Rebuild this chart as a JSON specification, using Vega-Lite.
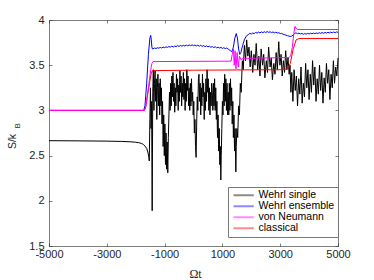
{
  "$schema": "https://vega.github.io/schema/vega-lite/v6.json",
  "width": 289,
  "height": 226,
  "autosize": "none",
  "padding": {"left": 49, "top": 20, "right": 36, "bottom": 34},
  "background": "white",
  "config": {
    "view": {"stroke": null},
    "font": "Liberation Sans",
    "axis": {
      "domainColor": "#262626", "domainWidth": 0.6,
      "tickColor": "#262626", "tickWidth": 0.6, "tickSize": -3,
      "labelColor": "#262626", "labelFontSize": 11, "labelFont": "Liberation Sans",
      "grid": false, "titleFontWeight": "normal", "titleColor": "#262626",
      "labelFlush": false, "labelOverlap": false
    },
    "legend": {
      "orient": "none", "legendX": 179, "legendY": 167,
      "title": null,
      "symbolType": "M-1.1,0H7",
      "symbolSize": 25,
      "symbolStrokeWidth": 2,
      "symbolOpacity": 0.45,
      "labelFontSize": 10.5, "labelFont": "Liberation Sans", "labelColor": "#000000",
      "labelOffset": 17, "labelLimit": 0,
      "padding": 3, "rowPadding": -1,
      "strokeColor": "#777777", "fillColor": "white"
    }
  },
  "datasets": {
    "single": [
      {"t": -5000, "S": 2.665}, {"t": -4000, "S": 2.663}, {"t": -3000, "S": 2.66}, {"t": -2500, "S": 2.657},
      {"t": -2200, "S": 2.653}, {"t": -2000, "S": 2.648}, {"t": -1900, "S": 2.643}, {"t": -1800, "S": 2.635},
      {"t": -1740, "S": 2.625}, {"t": -1680, "S": 2.605}, {"t": -1620, "S": 2.58}, {"t": -1580, "S": 2.54},
      {"t": -1550, "S": 2.49}, {"t": -1530, "S": 2.44}, {"t": -1510, "S": 2.9}, {"t": -1490, "S": 3.25},
      {"t": -1470, "S": 2.8}, {"t": -1450, "S": 3.1}, {"t": -1430, "S": 1.89}, {"t": -1410, "S": 3.2},
      {"t": -1390, "S": 3.45}, {"t": -1370, "S": 3.0}, {"t": -1350, "S": 3.3}, {"t": -1330, "S": 3.44},
      {"t": -1310, "S": 3.1}, {"t": -1290, "S": 3.35}, {"t": -1270, "S": 2.9}, {"t": -1250, "S": 3.25},
      {"t": -1230, "S": 3.4}, {"t": -1210, "S": 3.05}, {"t": -1190, "S": 3.3}, {"t": -1170, "S": 2.95},
      {"t": -1150, "S": 3.35}, {"t": -1130, "S": 3.05}, {"t": -1110, "S": 3.25}, {"t": -1090, "S": 2.85},
      {"t": -1070, "S": 3.1}, {"t": -1050, "S": 2.6}, {"t": -1030, "S": 2.95}, {"t": -1010, "S": 2.5},
      {"t": -990, "S": 2.85}, {"t": -970, "S": 2.4}, {"t": -950, "S": 2.75}, {"t": -930, "S": 2.35},
      {"t": -910, "S": 2.65}, {"t": -890, "S": 2.31}, {"t": -870, "S": 2.7}, {"t": -850, "S": 2.95},
      {"t": -830, "S": 3.2}, {"t": -810, "S": 3.0}, {"t": -790, "S": 3.3}, {"t": -770, "S": 3.05},
      {"t": -750, "S": 3.38}, {"t": -730, "S": 3.15}, {"t": -710, "S": 3.42}, {"t": -690, "S": 3.1},
      {"t": -670, "S": 3.3}, {"t": -650, "S": 2.98}, {"t": -630, "S": 3.25}, {"t": -610, "S": 3.05},
      {"t": -590, "S": 3.4}, {"t": -570, "S": 3.2}, {"t": -550, "S": 3.35}, {"t": -530, "S": 3.0},
      {"t": -510, "S": 3.28}, {"t": -490, "S": 3.1}, {"t": -470, "S": 3.44}, {"t": -450, "S": 3.2},
      {"t": -430, "S": 3.38}, {"t": -410, "S": 3.05}, {"t": -390, "S": 3.3}, {"t": -370, "S": 3.15},
      {"t": -350, "S": 3.42}, {"t": -330, "S": 3.12}, {"t": -310, "S": 3.35}, {"t": -290, "S": 3.0},
      {"t": -270, "S": 3.3}, {"t": -250, "S": 3.1}, {"t": -230, "S": 3.45}, {"t": -210, "S": 3.22},
      {"t": -190, "S": 3.38}, {"t": -170, "S": 3.05}, {"t": -150, "S": 3.25}, {"t": -130, "S": 3.0},
      {"t": -110, "S": 3.3}, {"t": -90, "S": 3.05}, {"t": -70, "S": 3.35}, {"t": -50, "S": 3.1},
      {"t": -30, "S": 3.2}, {"t": -10, "S": 2.95}, {"t": 10, "S": 3.1}, {"t": 30, "S": 2.75},
      {"t": 50, "S": 2.9}, {"t": 70, "S": 2.6}, {"t": 90, "S": 2.48}, {"t": 110, "S": 2.85},
      {"t": 130, "S": 3.15}, {"t": 150, "S": 3.0}, {"t": 170, "S": 3.35}, {"t": 190, "S": 3.4},
      {"t": 210, "S": 3.1}, {"t": 230, "S": 3.3}, {"t": 250, "S": 2.95}, {"t": 270, "S": 3.25},
      {"t": 290, "S": 3.05}, {"t": 310, "S": 3.4}, {"t": 330, "S": 3.15}, {"t": 350, "S": 3.3},
      {"t": 370, "S": 2.9}, {"t": 390, "S": 3.2}, {"t": 410, "S": 3.0}, {"t": 430, "S": 3.35},
      {"t": 450, "S": 3.1}, {"t": 470, "S": 3.45}, {"t": 490, "S": 3.2}, {"t": 510, "S": 3.35},
      {"t": 530, "S": 3.0}, {"t": 550, "S": 3.25}, {"t": 570, "S": 2.95}, {"t": 590, "S": 3.2},
      {"t": 610, "S": 3.05}, {"t": 630, "S": 3.3}, {"t": 650, "S": 3.2}, {"t": 670, "S": 3.0},
      {"t": 690, "S": 3.3}, {"t": 710, "S": 3.05}, {"t": 730, "S": 3.35}, {"t": 750, "S": 3.0},
      {"t": 770, "S": 3.25}, {"t": 790, "S": 2.9}, {"t": 810, "S": 3.1}, {"t": 830, "S": 2.7},
      {"t": 850, "S": 2.95}, {"t": 870, "S": 2.55}, {"t": 890, "S": 2.8}, {"t": 910, "S": 2.4},
      {"t": 930, "S": 2.6}, {"t": 945, "S": 2.23}, {"t": 960, "S": 2.5}, {"t": 980, "S": 2.8},
      {"t": 1000, "S": 3.1}, {"t": 1020, "S": 2.95}, {"t": 1040, "S": 3.3}, {"t": 1060, "S": 3.05},
      {"t": 1080, "S": 3.4}, {"t": 1100, "S": 3.1}, {"t": 1120, "S": 3.35}, {"t": 1140, "S": 3.0},
      {"t": 1160, "S": 3.3}, {"t": 1180, "S": 2.95}, {"t": 1200, "S": 3.2}, {"t": 1220, "S": 2.95},
      {"t": 1240, "S": 3.3}, {"t": 1260, "S": 3.0}, {"t": 1280, "S": 3.35}, {"t": 1300, "S": 3.05},
      {"t": 1320, "S": 3.25}, {"t": 1340, "S": 2.85}, {"t": 1360, "S": 3.1}, {"t": 1380, "S": 2.7},
      {"t": 1400, "S": 2.95}, {"t": 1420, "S": 2.55}, {"t": 1440, "S": 2.8}, {"t": 1465, "S": 2.32},
      {"t": 1480, "S": 2.6}, {"t": 1500, "S": 2.8}, {"t": 1530, "S": 2.7}, {"t": 1560, "S": 3.05},
      {"t": 1590, "S": 2.95}, {"t": 1620, "S": 3.3}, {"t": 1650, "S": 3.2}, {"t": 1690, "S": 3.55},
      {"t": 1720, "S": 3.45}, {"t": 1760, "S": 3.72}, {"t": 1800, "S": 3.55}, {"t": 1840, "S": 3.78},
      {"t": 1880, "S": 3.6}, {"t": 1920, "S": 3.7}, {"t": 1960, "S": 3.48}, {"t": 2000, "S": 3.66},
      {"t": 2050, "S": 3.42}, {"t": 2090, "S": 3.62}, {"t": 2130, "S": 3.5}, {"t": 2170, "S": 3.74},
      {"t": 2220, "S": 3.45}, {"t": 2260, "S": 3.6}, {"t": 2300, "S": 3.38}, {"t": 2340, "S": 3.68},
      {"t": 2390, "S": 3.5}, {"t": 2430, "S": 3.62}, {"t": 2470, "S": 3.36}, {"t": 2520, "S": 3.55},
      {"t": 2560, "S": 3.42}, {"t": 2600, "S": 3.7}, {"t": 2650, "S": 3.48}, {"t": 2690, "S": 3.58},
      {"t": 2730, "S": 3.34}, {"t": 2780, "S": 3.52}, {"t": 2820, "S": 3.4}, {"t": 2860, "S": 3.64},
      {"t": 2900, "S": 3.45}, {"t": 2950, "S": 3.76}, {"t": 2990, "S": 3.5}, {"t": 3030, "S": 3.62},
      {"t": 3070, "S": 3.38}, {"t": 3110, "S": 3.55}, {"t": 3150, "S": 3.42}, {"t": 3190, "S": 3.66},
      {"t": 3230, "S": 3.45}, {"t": 3270, "S": 3.58}, {"t": 3310, "S": 3.4}, {"t": 3340, "S": 3.5},
      {"t": 3370, "S": 3.2}, {"t": 3400, "S": 3.42}, {"t": 3440, "S": 3.1}, {"t": 3480, "S": 3.45},
      {"t": 3520, "S": 3.22}, {"t": 3560, "S": 3.38}, {"t": 3600, "S": 3.05}, {"t": 3640, "S": 3.35},
      {"t": 3680, "S": 3.18}, {"t": 3720, "S": 3.48}, {"t": 3760, "S": 3.08}, {"t": 3800, "S": 3.3},
      {"t": 3840, "S": 3.15}, {"t": 3880, "S": 3.52}, {"t": 3920, "S": 3.25}, {"t": 3960, "S": 3.45},
      {"t": 4000, "S": 3.12}, {"t": 4040, "S": 3.4}, {"t": 4080, "S": 3.2}, {"t": 4120, "S": 3.55},
      {"t": 4160, "S": 3.28}, {"t": 4200, "S": 3.48}, {"t": 4240, "S": 3.1}, {"t": 4280, "S": 3.35},
      {"t": 4320, "S": 3.18}, {"t": 4360, "S": 3.5}, {"t": 4400, "S": 3.22}, {"t": 4440, "S": 3.42},
      {"t": 4480, "S": 3.08}, {"t": 4520, "S": 3.36}, {"t": 4560, "S": 3.2}, {"t": 4600, "S": 3.52},
      {"t": 4640, "S": 3.3}, {"t": 4680, "S": 3.45}, {"t": 4720, "S": 3.12}, {"t": 4760, "S": 3.4},
      {"t": 4800, "S": 3.25}, {"t": 4840, "S": 3.55}, {"t": 4880, "S": 3.3}, {"t": 4920, "S": 3.48},
      {"t": 4960, "S": 3.38}, {"t": 5000, "S": 3.58}
    ],
    "ensemble": [
      {"t": -5000, "S": 3.0}, {"t": -1720, "S": 3.0}, {"t": -1680, "S": 3.05}, {"t": -1620, "S": 3.3},
      {"t": -1560, "S": 3.62}, {"t": -1510, "S": 3.8}, {"t": -1480, "S": 3.83}, {"t": -1460, "S": 3.78},
      {"t": -1440, "S": 3.7}, {"t": -1420, "S": 3.68}, {"t": -1350, "S": 3.69}, {"t": -1300, "S": 3.684},
      {"t": -1250, "S": 3.693}, {"t": -1200, "S": 3.688}, {"t": -1150, "S": 3.697}, {"t": -1100, "S": 3.69},
      {"t": -1050, "S": 3.7}, {"t": -1000, "S": 3.694}, {"t": -950, "S": 3.703}, {"t": -900, "S": 3.697},
      {"t": -850, "S": 3.706}, {"t": -800, "S": 3.7}, {"t": -750, "S": 3.71}, {"t": -700, "S": 3.702},
      {"t": -650, "S": 3.712}, {"t": -600, "S": 3.706}, {"t": -550, "S": 3.716}, {"t": -500, "S": 3.708},
      {"t": -450, "S": 3.718}, {"t": -400, "S": 3.71}, {"t": -350, "S": 3.72}, {"t": -300, "S": 3.712},
      {"t": -250, "S": 3.722}, {"t": -200, "S": 3.714}, {"t": -150, "S": 3.724}, {"t": -100, "S": 3.716},
      {"t": -50, "S": 3.725}, {"t": 0, "S": 3.716}, {"t": 50, "S": 3.724}, {"t": 100, "S": 3.713},
      {"t": 150, "S": 3.722}, {"t": 200, "S": 3.71}, {"t": 250, "S": 3.72}, {"t": 300, "S": 3.708},
      {"t": 350, "S": 3.717}, {"t": 400, "S": 3.705}, {"t": 450, "S": 3.714}, {"t": 500, "S": 3.703},
      {"t": 550, "S": 3.71}, {"t": 600, "S": 3.698}, {"t": 650, "S": 3.707}, {"t": 700, "S": 3.695},
      {"t": 750, "S": 3.704}, {"t": 800, "S": 3.692}, {"t": 850, "S": 3.7}, {"t": 900, "S": 3.69},
      {"t": 950, "S": 3.697}, {"t": 1000, "S": 3.686}, {"t": 1050, "S": 3.693}, {"t": 1100, "S": 3.684},
      {"t": 1150, "S": 3.69}, {"t": 1200, "S": 3.678}, {"t": 1280, "S": 3.66}, {"t": 1330, "S": 3.65},
      {"t": 1380, "S": 3.7}, {"t": 1430, "S": 3.8}, {"t": 1480, "S": 3.85}, {"t": 1520, "S": 3.8},
      {"t": 1560, "S": 3.68}, {"t": 1600, "S": 3.62}, {"t": 1640, "S": 3.64}, {"t": 1700, "S": 3.72},
      {"t": 1760, "S": 3.78}, {"t": 1820, "S": 3.82}, {"t": 1900, "S": 3.84}, {"t": 1950, "S": 3.852},
      {"t": 2000, "S": 3.845}, {"t": 2050, "S": 3.856}, {"t": 2100, "S": 3.85}, {"t": 2150, "S": 3.862},
      {"t": 2200, "S": 3.855}, {"t": 2250, "S": 3.866}, {"t": 2300, "S": 3.858}, {"t": 2350, "S": 3.868},
      {"t": 2400, "S": 3.86}, {"t": 2450, "S": 3.87}, {"t": 2500, "S": 3.862}, {"t": 2550, "S": 3.872},
      {"t": 2600, "S": 3.863}, {"t": 2650, "S": 3.87}, {"t": 2700, "S": 3.86}, {"t": 2750, "S": 3.868},
      {"t": 2800, "S": 3.858}, {"t": 2850, "S": 3.865}, {"t": 2900, "S": 3.855}, {"t": 2950, "S": 3.86},
      {"t": 3000, "S": 3.85}, {"t": 3050, "S": 3.852}, {"t": 3100, "S": 3.842}, {"t": 3150, "S": 3.838},
      {"t": 3200, "S": 3.832}, {"t": 3250, "S": 3.826}, {"t": 3300, "S": 3.822}, {"t": 3350, "S": 3.818},
      {"t": 3400, "S": 3.822}, {"t": 3450, "S": 3.835}, {"t": 3500, "S": 3.852}, {"t": 3550, "S": 3.858},
      {"t": 3600, "S": 3.848}, {"t": 3650, "S": 3.855}, {"t": 3700, "S": 3.845}, {"t": 3750, "S": 3.852},
      {"t": 3800, "S": 3.842}, {"t": 3850, "S": 3.85}, {"t": 3900, "S": 3.843}, {"t": 3950, "S": 3.852},
      {"t": 4000, "S": 3.845}, {"t": 4050, "S": 3.854}, {"t": 4100, "S": 3.847}, {"t": 4150, "S": 3.856},
      {"t": 4200, "S": 3.848}, {"t": 4250, "S": 3.857}, {"t": 4300, "S": 3.85}, {"t": 4350, "S": 3.859},
      {"t": 4400, "S": 3.852}, {"t": 4450, "S": 3.861}, {"t": 4500, "S": 3.853}, {"t": 4550, "S": 3.862},
      {"t": 4600, "S": 3.855}, {"t": 4650, "S": 3.864}, {"t": 4700, "S": 3.857}, {"t": 4750, "S": 3.866},
      {"t": 4800, "S": 3.858}, {"t": 4850, "S": 3.867}, {"t": 4900, "S": 3.86}, {"t": 4950, "S": 3.868},
      {"t": 5000, "S": 3.863}
    ],
    "vonneumann": [
      {"t": -5000, "S": 3.0}, {"t": -1700, "S": 3.0}, {"t": -1660, "S": 3.03}, {"t": -1560, "S": 3.25},
      {"t": -1480, "S": 3.45}, {"t": -1440, "S": 3.52}, {"t": -1400, "S": 3.54}, {"t": 1300, "S": 3.545},
      {"t": 1340, "S": 3.62}, {"t": 1380, "S": 3.68}, {"t": 1410, "S": 3.5}, {"t": 1440, "S": 3.66},
      {"t": 1470, "S": 3.46}, {"t": 1510, "S": 3.64}, {"t": 1550, "S": 3.48}, {"t": 1590, "S": 3.6},
      {"t": 1640, "S": 3.56}, {"t": 1700, "S": 3.575}, {"t": 3300, "S": 3.585}, {"t": 3360, "S": 3.6},
      {"t": 3420, "S": 3.7}, {"t": 3470, "S": 3.85}, {"t": 3510, "S": 3.93}, {"t": 3540, "S": 3.91},
      {"t": 3600, "S": 3.895}, {"t": 5000, "S": 3.895}
    ],
    "classical": [
      {"t": -5000, "S": 3.0}, {"t": -1700, "S": 3.0}, {"t": -1650, "S": 3.04}, {"t": -1550, "S": 3.25},
      {"t": -1470, "S": 3.4}, {"t": -1420, "S": 3.44}, {"t": 0, "S": 3.445}, {"t": 3000, "S": 3.45},
      {"t": 3250, "S": 3.46}, {"t": 3350, "S": 3.52}, {"t": 3450, "S": 3.68}, {"t": 3550, "S": 3.78},
      {"t": 3650, "S": 3.795}, {"t": 5000, "S": 3.795}
    ]
  },
  "resolve": {"axis": {"x": "independent", "y": "independent"}},
  "layer": [
    {
      "data": {"name": "single"},
      "mark": {"type": "line", "strokeWidth": 1},
      "encoding": {
        "x": {"field": "t", "type": "quantitative",
          "scale": {"domain": [-5000, 5000], "nice": false, "zero": false},
          "axis": {"orient": "bottom", "values": [-5000, -3000, -1000, 1000, 3000, 5000],
            "labelExpr": "'' + datum.value", "labelPadding": 5,
            "title": "Ωt", "titleFont": "Liberation Serif", "titleFontSize": 12,
            "titleX": 146, "titleY": 27, "titleBaseline": "middle", "titleAlign": "center"}},
        "y": {"field": "S", "type": "quantitative",
          "scale": {"domain": [1.5, 4], "nice": false, "zero": false},
          "axis": {"orient": "left", "values": [1.5, 2, 2.5, 3, 3.5, 4],
            "labelExpr": "'' + datum.value", "labelPadding": 8,
            "title": "S/k", "titleFont": "Liberation Sans", "titleFontSize": 10.5,
            "titleX": -37, "titleY": 121, "titleAngle": 270, "titleBaseline": "middle", "titleAlign": "center"}},
        "color": {"datum": "Wehrl single", "type": "nominal",
          "scale": {"domain": ["Wehrl single", "Wehrl ensemble", "von Neumann", "classical"],
            "range": ["#000000", "#0000ff", "#ff00ff", "#ff0000"]}}
      }
    },
    {
      "data": {"name": "ensemble"},
      "mark": {"type": "line", "strokeWidth": 1},
      "encoding": {
        "x": {"field": "t", "type": "quantitative",
          "axis": {"orient": "top", "values": [-5000, -3000, -1000, 1000, 3000, 5000], "labels": false, "title": null}},
        "y": {"field": "S", "type": "quantitative",
          "axis": {"orient": "right", "values": [1.5, 2, 2.5, 3, 3.5, 4], "labels": false, "title": null}},
        "color": {"datum": "Wehrl ensemble", "type": "nominal"}
      }
    },
    {
      "data": {"name": "classical"},
      "mark": {"type": "line", "strokeWidth": 1},
      "encoding": {
        "x": {"field": "t", "type": "quantitative", "axis": null},
        "y": {"field": "S", "type": "quantitative", "axis": null},
        "color": {"datum": "classical", "type": "nominal"}
      }
    },
    {
      "data": {"name": "vonneumann"},
      "mark": {"type": "line", "strokeWidth": 1},
      "encoding": {
        "x": {"field": "t", "type": "quantitative", "axis": null},
        "y": {"field": "S", "type": "quantitative", "axis": null},
        "color": {"datum": "von Neumann", "type": "nominal"}
      }
    },
    {
      "data": {"values": [{"label": "B"}]},
      "mark": {"type": "text", "angle": 270, "align": "center", "baseline": "middle",
        "dy": -31.5, "fontSize": 8, "font": "Liberation Sans", "color": "#262626"},
      "encoding": {
        "text": {"field": "label"},
        "x": {"datum": -5000, "type": "quantitative", "axis": null},
        "y": {"datum": 2.83, "type": "quantitative", "axis": null}
      }
    }
  ]
}
